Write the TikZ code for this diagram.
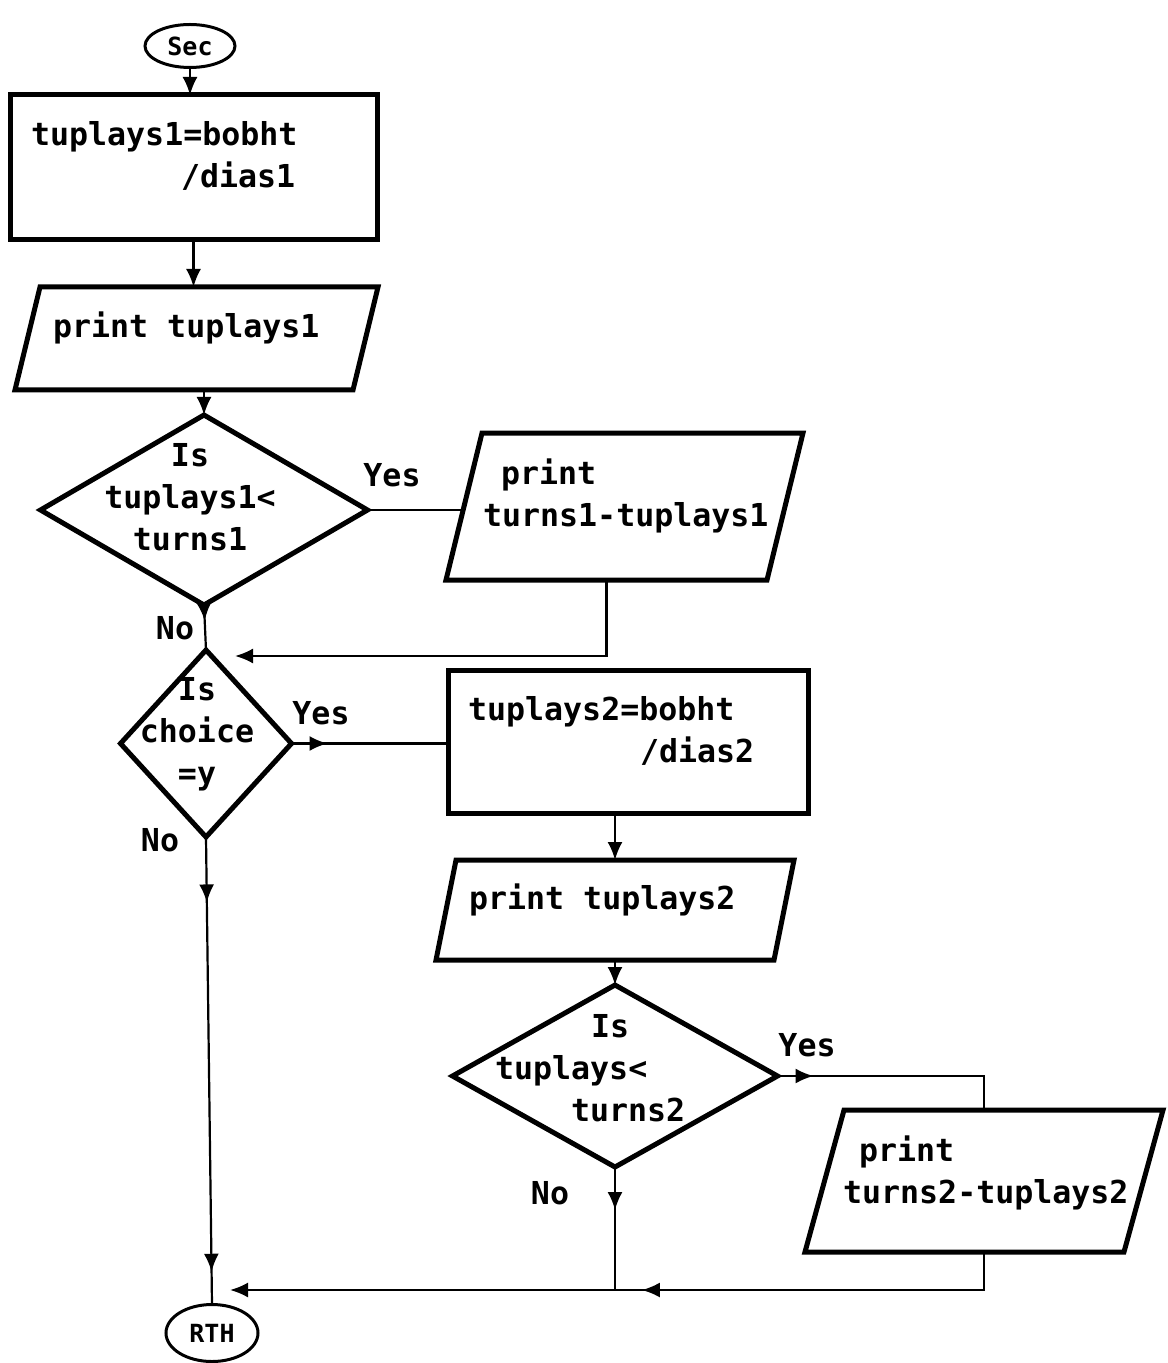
\documentclass[tikz,border=0pt]{standalone}
\usepackage{fontspec}
\setmonofont{DejaVu Sans Mono}
\usetikzlibrary{shapes.geometric,arrows.meta,decorations.markings}

\tikzset{
  blk/.style={draw,line width=2.5pt,inner sep=0pt,outer sep=0pt},
  term/.style={ellipse,draw,line width=1.5pt,inner sep=0pt,outer sep=0pt,font=\fontsize{12.5}{14}\ttfamily\bfseries},
  io/.style={blk,rectangle,xslant=#1},
  txt/.style={font=\fontsize{15.8}{21}\ttfamily\bfseries,inner sep=0pt},
  arr/.style={-{Latex[length=9pt,width=7.5pt]}},
  midarr/.style={postaction={decorate,decoration={markings,mark=at position #1 with {\arrow{Latex[length=9pt,width=7.5pt]}}}}}
}

\begin{document}
\begin{tikzpicture}[x=0.5pt,y=-0.5pt,line width=1.1pt]
\useasboundingbox (0,0) rectangle (1167,1363);

% left column
\node[term,minimum width=45pt,minimum height=21.5pt] (sec) at (190,46) {Sec};
\node[blk,minimum width=183.5pt,minimum height=72.5pt] (b1) at (193.5,167.5) {};
\node[txt,anchor=west,align=left] (t1) at (30,155.5) {tuplays1=bobht\\\hspace*{75pt}/dias1};
\node[io=0.243,minimum width=169pt,minimum height=51.5pt] (p1) at (196.5,338.5) {};
\node[txt,anchor=west] (t2) at (52,328) {print tuplays1};
\node[blk,diamond,minimum width=163.5pt,minimum height=95pt] (d1) at (204,510) {};
\node[txt,align=center] (t3) at (190,497) {Is\\tuplays1<\\turns1};
\node[txt] (y1) at (392,475) {Yes};
\node[io=0.245,minimum width=160.5pt,minimum height=73.5pt] (p2) at (624.5,506.5) {};
\node[txt,anchor=west,align=left] (t4) at (482,496) {\hspace*{9pt}print\\turns1-tuplays1};
\node[txt] (n1) at (175,628) {No};
\coordinate (j1) at (235,656);

\node[blk,diamond,minimum width=85.5pt,minimum height=93.5pt] (d2) at (206,743.5) {};
\node[txt,align=center] (t5) at (197,734) {Is\\choice\\=y};
\node[txt] (y2) at (321,713) {Yes};
\node[txt] (n2) at (160,840) {No};
\node[term,minimum width=46pt,minimum height=28.5pt] (rth) at (212,1333) {RTH};

% right column
\node[blk,minimum width=180pt,minimum height=71.5pt] (b2) at (628,741.5) {};
\node[txt,anchor=west,align=left] (t6) at (467,731) {tuplays2=bobht\\\hspace*{86pt}/dias2};
\node[io=0.2,minimum width=169pt,minimum height=50pt] (p3) at (615,910) {};
\node[txt,anchor=west] (t7) at (468,900) {print tuplays2};
\node[blk,diamond,minimum width=162.5pt,minimum height=91pt] (d3) at (615,1076) {};
\node[txt,anchor=west,align=left] (t8) at (494,1068) {\hspace*{48pt}Is\\tuplays<\\\hspace*{38pt}turns2};
\node[txt] (y3) at (807,1045) {Yes};
\node[txt] (n3) at (550,1193) {No};
\node[io=0.275,minimum width=159.5pt,minimum height=71pt] (p4) at (984,1181) {};
\node[txt,anchor=west,align=left] (t9) at (842,1172.5) {\hspace*{8pt}print\\turns2-tuplays2};
\coordinate (j2) at (230,1290);

% connectors
\draw[arr] (sec.south) -- (sec.south |- b1.north);
\draw[arr] (b1.south) -- (b1.south |- p1.north);
\draw[arr] (p1.south -| d1.north) -- (d1.north);
\draw (d1.east) -- (d1.east -| p2.west);
\draw[arr] (p2.south) |- (j1);
\draw[midarr=0.35] (d1.south) -- (d2.north);
\draw[midarr=0.23] (d2.east) -- (d2.east -| b2.west);
\draw[midarr=0.14,midarr=0.93] (d2.south) -- (rth.north);
\draw[arr] (b2.south -| d3.north) -- (d3.north |- p3.north);
\draw[arr] (p3.south -| d3.north) -- (d3.north);
\draw[midarr=0.15] (d3.east) -| (p4.center |- p4.north);
\draw[midarr=0.35] (d3.south) -- (d3.south |- j2);
\draw[arr,midarr=0.48] (p4.center |- p4.south) |- (j2);
\end{tikzpicture}
\end{document}
